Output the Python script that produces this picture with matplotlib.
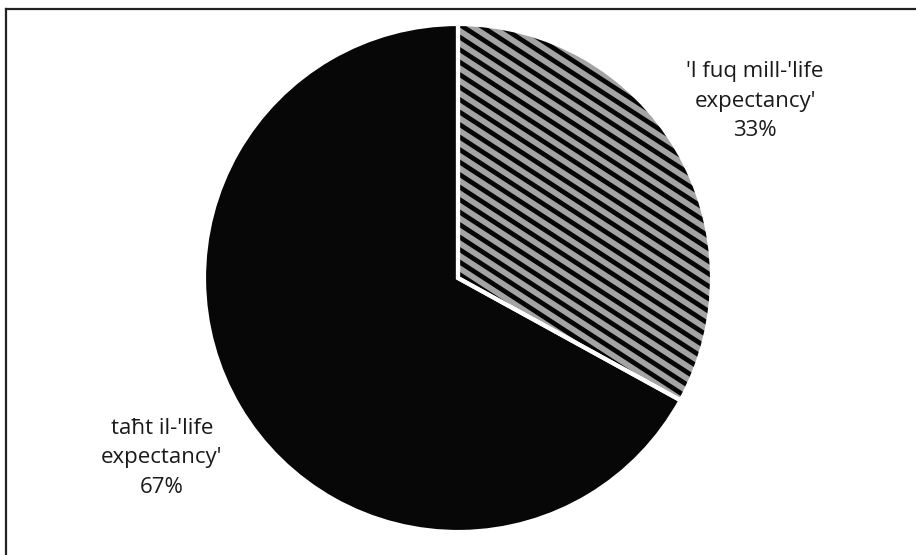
import matplotlib
matplotlib.use('Agg')
import matplotlib.pyplot as plt
import numpy as np
from matplotlib.collections import LineCollection
from matplotlib.lines import Line2D

# ---- data ----
categories = ["'l fuq mill-'life\nexpectancy'", "taħt il-'life\nexpectancy'"]
values = [33, 67]
pct_labels = ["33%", "67%"]

W, H = 916, 555
fig = plt.figure(figsize=(W / 100, H / 100), dpi=100)
ax = fig.add_axes([0, 0, 1, 1])

cx, cy, r = 458, H - 278, 254
wedges, _ = ax.pie(values, startangle=90, counterclock=False, center=(cx, cy),
                   radius=r, colors=['#a4a4a4', '#070707'],
                   wedgeprops=dict(edgecolor='none', linewidth=0), frame=True)

# diagonal stripes inside the first slice
m = np.tan(np.radians(33))
xs = np.array([cx - r - 20, cx + r + 20])
segs = []
for c in np.arange(cy - 2 * r, cy + 2 * r, 12.5):
    segs.append(np.column_stack([xs, c - m * (xs - cx)]))
lc = LineCollection(segs, colors='#050505', linewidths=3.4, zorder=3)
ax.add_collection(lc)
lc.set_clip_path(wedges[0])

# white separators on top
ax.pie(values, startangle=90, counterclock=False, center=(cx, cy), radius=r,
       wedgeprops=dict(fill=False, edgecolor='white', linewidth=3, zorder=5),
       frame=True)

ax.set_xlim(0, W)
ax.set_ylim(0, H)
ax.set_aspect('equal')
ax.axis('off')

font = 'Open Sans'
ax.text(755, H - 101, categories[0] + "\n" + pct_labels[0], ha='center', va='center',
        fontsize=16, family=font, color='#1a1a1a', linespacing=1.55, zorder=6)
ax.text(162, H - 458, categories[1] + "\n" + pct_labels[1], ha='center', va='center',
        fontsize=16, family=font, color='#1a1a1a', linespacing=1.55, zorder=6)

# scanned frame (top and left border)
fig.add_artist(Line2D([6 / W, 1], [1 - 9 / H, 1 - 9 / H], transform=fig.transFigure,
                      color='#222222', linewidth=1.6))
fig.add_artist(Line2D([6 / W, 6 / W], [0, 1 - 9 / H], transform=fig.transFigure,
                      color='#222222', linewidth=1.6))

fig.savefig('out.png', dpi=100, facecolor='white')
